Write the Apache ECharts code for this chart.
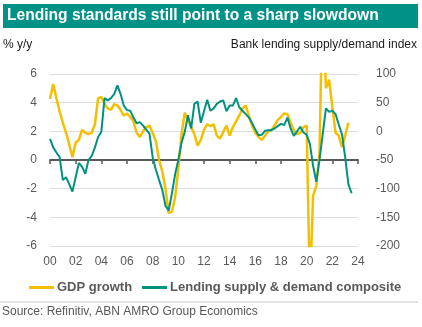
<!DOCTYPE html>
<html><head><meta charset="utf-8">
<script src="https://cdn.jsdelivr.net/npm/echarts@6/dist/echarts.min.js"></script>
<style>html,body{margin:0;padding:0;background:#fff}#c{width:422px;height:327px}</style>
</head><body><div id="c"></div>
<script>
// Quarterly data, 2000Q1 onwards
var startYear = 2000;
var gdpGrowth = [4.25,5.3,4.3,3.4,2.6,1.9,1.1,0.2,1.2,1.4,2.1,1.9,1.8,1.9,2.5,4.3,
  4.4,3.9,3.6,3.5,3.9,3.8,3.5,3.1,3.25,3.0,2.7,1.9,1.6,2.0,2.3,2.4,
  1.9,1.3,0.0,-0.8,-2.0,-3.7,-3.6,-2.6,-0.6,1.8,3.3,2.8,2.3,1.8,1.0,1.4,
  2.1,2.5,2.35,2.5,1.7,1.5,1.95,2.4,1.7,2.3,2.7,3.1,3.6,3.8,3.1,2.4,
  1.9,1.6,1.4,1.7,2.0,2.1,2.4,2.8,3.0,3.25,3.2,2.6,2.1,1.8,1.9,2.3,
  2.4,-9.1,-2.5,-1.8,0.5,12.0,5.0,5.6,3.7,1.9,1.7,0.9,1.7,2.6];
var lendingComposite = [-13,-28,-37,-45,-85,-80,-92,-105,-80,-55,-62,-74,-50,-43,-28,-10,
  -1,58,54,58,65,80,65,45,37,36,24,14,16,10,3,-4,
  -45,-67,-85,-102,-130,-138,-108,-75,-50,-20,-1,28,5,48,52,15,
  35,55,36,40,48,52,54,35,45,45,58,42,36,30,24,14,
  3,-7,-6,1,2,2,5,9,13,11,24,5,-8,0,8,-2,
  -6,-22,-60,-88,-50,-5,40,34,36,30,12,-5,-45,-92,-108];
var yearTicks = ['00','02','04','06','08','10','12','14','16','18','20','22','24'];
var leftTicks = [-6,-4,-2,0,2,4,6];
var rightTicks = [-200,-150,-100,-50,0,50,100];

function toPairs(arr){ return arr.map(function(v,i){ return [startYear + i/4, v]; }); }

var grey = '#595959';
var teal = '#00927f';
var yellow = '#f3bf00';
var font = 'Liberation Sans, Arial, sans-serif';

var chart = echarts.init(document.getElementById('c'), null, {renderer:'canvas'});
chart.setOption({
  animation: false,
  textStyle: {fontFamily: font},
  graphic: [
    {type:'rect', shape:{x:3,y:4,width:415,height:24}, style:{fill:'#009286'}},
    {type:'text', left:7, top:8, style:{text:'Lending standards still point to a sharp slowdown', fill:'#fff', font:'bold 15.6px '+font}},
    {type:'text', left:3, top:39, style:{text:'% y/y', fill:'#1a1a1a', font:'12px '+font}},
    {type:'text', right:5, top:39, style:{text:'Bank lending supply/demand index', fill:'#1a1a1a', font:'12px '+font}},
    {type:'line', shape:{x1:0,y1:302,x2:418,y2:302}, style:{stroke:'#c8c8c8', lineWidth:1}},
    {type:'text', left:2, top:306, style:{text:'Source: Refinitiv, ABN AMRO Group Economics', fill:grey, font:'12px '+font}}
  ],
  grid: {left:50, right:64, top:74, bottom:81, containLabel:false},
  legend: {
    left: 24, top: 276, width: 410, itemWidth: 25, itemHeight: 3, itemGap: 10, icon: 'rect',
    textStyle: {color: grey, fontSize: 13, fontFamily: font, fontWeight: 'bold', padding:[0,0,0,-2]},
    data: ['GDP growth','Lending supply & demand composite']
  },
  xAxis: [
    {type:'value', min:2000, max:2024, interval:2,
     axisLine:{show:false}, axisTick:{show:false}, splitLine:{show:false},
     axisLabel:{color:grey, fontSize:12, margin:10,
       formatter:function(v){ var idx=Math.round((v-2000)/2); return yearTicks[idx]; }}},
    {type:'value', min:2000, max:2024, interval:2, position:'bottom',
     axisLine:{show:true, onZero:true, onZeroAxisIndex:0, lineStyle:{color:grey, width:2}},
     axisTick:{show:true, length:4, lineStyle:{color:grey, width:1.5}},
     axisLabel:{show:false}, splitLine:{show:false}}
  ],
  yAxis: [
    {type:'value', min:-6, max:6, interval:2, position:'left',
     axisLine:{show:false}, axisTick:{show:false},
     splitLine:{lineStyle:{color:'#dcdcdc', width:1}},
     axisLabel:{color:grey, fontSize:12, margin:13}},
    {type:'value', min:-200, max:100, interval:50, position:'right',
     axisLine:{show:false}, axisTick:{show:false}, splitLine:{show:false},
     axisLabel:{color:grey, fontSize:12, margin:18}}
  ],
  series: [
    {name:'GDP growth', type:'line', xAxisIndex:0, yAxisIndex:0, data:toPairs(gdpGrowth),
     showSymbol:false, lineStyle:{color:yellow, width:2.5}, itemStyle:{color:yellow}, z:2},
    {name:'Lending supply & demand composite', type:'line', xAxisIndex:0, yAxisIndex:1, data:toPairs(lendingComposite),
     showSymbol:false, lineStyle:{color:teal, width:2}, itemStyle:{color:teal}, z:3}
  ]
});
</script></body></html>
